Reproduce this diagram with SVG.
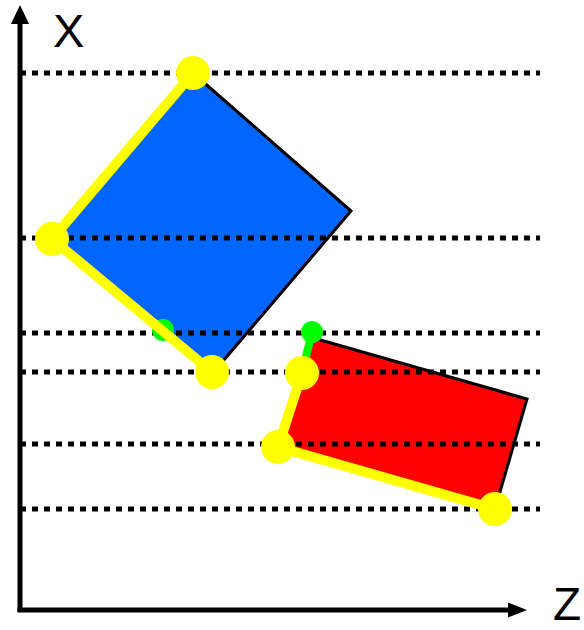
<svg xmlns="http://www.w3.org/2000/svg" width="584" height="630" viewBox="0 0 584 630">
<style>
.dot{stroke:#000;stroke-width:5;stroke-dasharray:6 6;fill:none}
.axis{stroke:#000;stroke-width:5;fill:none}
.yl{stroke:#ffff00;stroke-width:10;fill:none;stroke-linecap:round;stroke-linejoin:round}
.gl{stroke:#00ff00;stroke-width:8;fill:none;stroke-linecap:round}
.yc{fill:#ffff00}
.gc{fill:#00ff00}
.edge{stroke:#000;stroke-width:3;fill:none}
.lbl{font-family:"Liberation Sans",Arial,sans-serif;font-size:47px;fill:#000}
</style>
<rect width="584" height="630" fill="#fff"/>
<g id="axes">
<line class="axis" x1="20" y1="612" x2="20" y2="22"/>
<polygon points="20,5 11,24 29,24" fill="#000"/>
<line class="axis" x1="17.5" y1="610" x2="510" y2="610"/>
<polygon points="527,610 508,602.5 508,617.5" fill="#000"/>
<text class="lbl" x="53" y="47">X</text>
<text class="lbl" x="553" y="620" style="font-size:46px">Z</text>
</g>
<g id="blue-rect">
<polygon points="193,73 351,211 212,374 52,239" fill="#0066ff"/>
<polyline class="edge" points="193,73 351,211 212,374"/>
</g>
<g id="red-rect">
<polygon points="310,337 527,399 495,509 278,447" fill="#ff0000"/>
<polyline class="edge" points="310,337 527,399 495,509"/>
</g>
<g id="grid">
<line class="dot" x1="20" y1="73" x2="540" y2="73"/>
<line class="dot" x1="20" y1="238" x2="540" y2="238"/>
<line class="dot" x1="20" y1="333" x2="540" y2="333"/>
<line class="dot" x1="20" y1="372" x2="540" y2="372"/>
<line class="dot" x1="20" y1="444" x2="540" y2="444"/>
<line class="dot" x1="20" y1="509" x2="540" y2="509"/>
</g>
<g id="green-point-blue"><circle class="gc" cx="163" cy="330" r="11"/></g>
<g id="green-point-red"><circle class="gc" cx="312" cy="332" r="11"/></g>
<g id="connectors">
<polyline class="yl" points="193,73 52,239 212,372"/>
<line class="gl" x1="312" y1="332" x2="302" y2="373"/>
<polyline class="yl" points="302,373 278,447 495,509"/>
</g>
<g id="yellow-points">
<circle class="yc" cx="193" cy="73" r="17"/>
<circle class="yc" cx="52" cy="239" r="17"/>
<circle class="yc" cx="212" cy="372" r="17"/>
<circle class="yc" cx="302" cy="373" r="17"/>
<circle class="yc" cx="278" cy="447" r="17"/>
<circle class="yc" cx="495" cy="509" r="17"/>
</g>
</svg>
